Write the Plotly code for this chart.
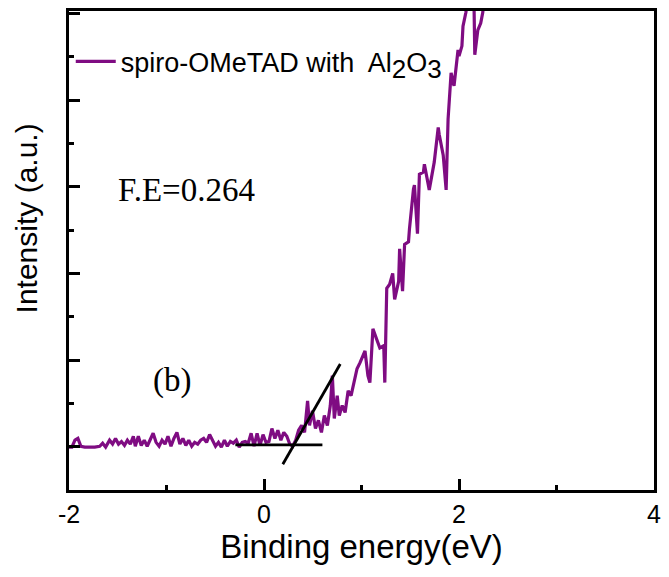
import plotly.graph_objects as go

# Binding energy (eV) and intensity (a.u.)
energy = [-2.000, -1.970, -1.939, -1.909, -1.878, -1.838, -1.787, -1.736, -1.685, -1.655,
          -1.624, -1.584, -1.553, -1.523, -1.492, -1.462, -1.431, -1.401, -1.371, -1.340,
          -1.320, -1.289, -1.259, -1.228, -1.198, -1.168, -1.137, -1.107, -1.076, -1.046,
          -1.015, -0.985, -0.954, -0.924, -0.893, -0.863, -0.832, -0.802, -0.772, -0.741,
          -0.711, -0.680, -0.650, -0.619, -0.589, -0.558, -0.528, -0.497, -0.467, -0.437,
          -0.406, -0.376, -0.345, -0.315, -0.284, -0.254, -0.223, -0.193, -0.162, -0.132,
          -0.102, -0.071, -0.041, -0.010, 0.020, 0.051, 0.081, 0.112, 0.142, 0.173,
          0.203, 0.234, 0.264, 0.294, 0.325, 0.355, 0.386, 0.416, 0.447, 0.467,
          0.497, 0.528, 0.558, 0.589, 0.619, 0.650, 0.680, 0.701, 0.721, 0.751,
          0.772, 0.802, 0.832, 0.863, 0.893, 0.924, 0.954, 0.985, 1.005, 1.036,
          1.066, 1.086, 1.117, 1.157, 1.188, 1.228, 1.239, 1.259, 1.289, 1.320,
          1.340, 1.381, 1.391, 1.421, 1.442, 1.482, 1.492, 1.533, 1.543, 1.574,
          1.594, 1.635, 1.645, 1.695, 1.746, 1.787, 1.797, 1.838, 1.868, 1.888,
          1.919, 1.949, 1.990, 2.000, 2.030, 2.041, 2.071, 2.112, 2.152, 2.162,
          2.193, 2.223, 2.244, 2.274]
intensity = [0.99, 0.99, 1.15, 1.19, 1.01, 0.99, 0.99, 0.99, 1.01, 1.08,
             0.99, 1.15, 1.06, 1.19, 1.06, 1.12, 1.03, 1.15, 1.06, 1.24,
             1.01, 1.24, 1.03, 1.15, 1.01, 1.15, 1.31, 1.10, 1.01, 1.15,
             1.06, 1.24, 1.01, 1.19, 1.33, 1.06, 1.19, 1.03, 1.15, 1.01,
             1.10, 1.06, 1.15, 1.19, 1.10, 1.28, 1.15, 1.01, 1.10, 0.99,
             1.15, 1.01, 1.12, 1.08, 1.15, 0.99, 1.10, 1.12, 1.08, 1.31,
             1.01, 1.31, 1.03, 1.28, 1.10, 1.12, 1.42, 1.19, 1.38, 1.15,
             1.33, 1.24, 1.06, 1.01, 1.15, 1.38, 1.49, 1.33, 2.06, 1.49,
             1.83, 1.42, 1.61, 1.33, 1.72, 1.49, 1.95, 2.64, 1.65, 2.18,
             1.72, 1.95, 1.79, 2.29, 2.18, 2.52, 2.80, 2.94, 3.03, 3.21,
             2.64, 2.48, 3.72, 3.44, 3.28, 3.33, 2.48, 4.66, 4.75, 5.00,
             4.40, 4.82, 5.57, 4.59, 5.67, 5.73, 6.03, 6.95, 7.04, 5.92,
             7.29, 7.34, 7.52, 6.93, 7.57, 8.37, 8.21, 7.73, 6.93, 8.56,
             9.63, 9.33, 10.16, 10.02, 10.25, 10.71, 11.03, 11.80, 11.50, 10.05,
             10.62, 10.78, 11.03, 11.90]

# Tangent-line construction for the onset (F.E)
base_x = [-0.294, 0.599]
base_y = [1.04, 1.04]
slope_x = [0.193, 0.782]
slope_y = [0.596, 2.91]

x_tickvals = [-2, 0, 2, 4]
x_ticktext = ["-2", "0", "2", "4"]

sub_style = "font-size:26px"
series_name = ("spiro-OMeTAD with&nbsp; Al<sub><span style='%s'>2</span></sub>"
               "O<sub><span style='%s'>3</span></sub>") % (sub_style, sub_style)
purple = "#7f0c82"

fig = go.Figure()
fig.add_trace(go.Scatter(x=energy, y=intensity, mode="lines", name=series_name,
                         line=dict(color=purple, width=3.2), showlegend=True))
fig.add_trace(go.Scatter(x=base_x, y=base_y, mode="lines", showlegend=False,
                         line=dict(color="black", width=2.8)))
fig.add_trace(go.Scatter(x=slope_x, y=slope_y, mode="lines", showlegend=False,
                         line=dict(color="black", width=2.8)))

axis_common = dict(showline=True, linecolor="black", linewidth=3, mirror=True,
                   showgrid=False, zeroline=False, ticks="inside", tickcolor="black",
                   tickwidth=2.8, ticklen=11)

fig.update_xaxes(range=[-2, 4], tickvals=x_tickvals, ticktext=x_ticktext,
                 tickfont=dict(family="Liberation Sans", size=25, color="black"),
                 title=dict(text="Binding energy(eV)", standoff=4,
                            font=dict(family="Liberation Sans", size=33, color="black")),
                 minor=dict(dtick=1, tick0=0, ticks="inside", ticklen=5, tickwidth=2.8,
                            tickcolor="black", showgrid=False),
                 **axis_common)
fig.update_yaxes(range=[0, 11.06], tick0=1, dtick=2, showticklabels=False,
                 minor=dict(dtick=1, tick0=0, ticks="inside", ticklen=5, tickwidth=2.8,
                            tickcolor="black", showgrid=False),
                 **axis_common)

fig.add_annotation(text="F.E=0.264", x=-0.792, y=6.93, xref="x", yref="y", showarrow=False,
                   font=dict(family="Liberation Serif", size=33, color="black"))
fig.add_annotation(text="(b)", x=-0.944, y=2.52, xref="x", yref="y", showarrow=False,
                   font=dict(family="Liberation Serif", size=33, color="black"))
fig.add_annotation(text="Intensity (a.u.)", x=-0.0726, y=0.566, xref="paper", yref="paper",
                   xanchor="center", yanchor="middle", textangle=-90, showarrow=False,
                   font=dict(family="Liberation Sans", size=30, color="black"))

fig.update_layout(width=669, height=577, margin=dict(l=69, r=8, t=8, b=87),
                  paper_bgcolor="white", plot_bgcolor="white",
                  legend=dict(x=0.003, y=0.945, xanchor="left", yanchor="top",
                              bgcolor="rgba(0,0,0,0)", itemwidth=40,
                              font=dict(family="Liberation Sans", size=27, color="black")))

fig.write_html("out.html")
